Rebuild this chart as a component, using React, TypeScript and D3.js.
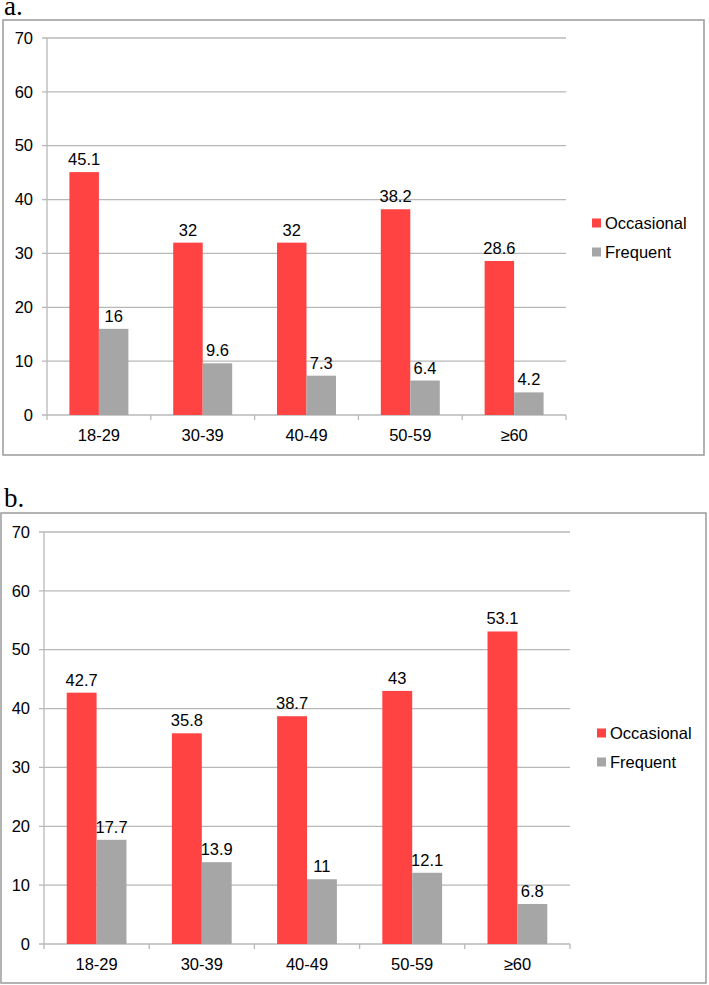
import * as d3 from 'd3'

const categories = ['18-29', '30-39', '40-49', '50-59', '≥60']
const seriesNames = ['Occasional', 'Frequent']
const seriesColors = ['#FF4343', '#A6A6A6']
const yTicks = [0, 10, 20, 30, 40, 50, 60, 70]

const occasionalA = [45.1, 32, 32, 38.2, 28.6]
const frequentA = [16, 9.6, 7.3, 6.4, 4.2]
const occasionalB = [42.7, 35.8, 38.7, 43, 53.1]
const frequentB = [17.7, 13.9, 11, 12.1, 6.8]

type PanelProps = {
  title: string
  values: number[][]
  titleY: number
  frame: { x0: number; y0: number; x1: number; y1: number }
  plot: { left: number; right: number; top: number; bottom: number }
  legendX: number
  legendY: number
}

function Panel({ title, values, titleY, frame, plot, legendX, legendY }: PanelProps) {
  const y = d3.scaleLinear([0, 70], [plot.bottom, plot.top])
  const x0 = d3.scaleBand(categories, [plot.left, plot.right])
  const x1 = d3
    .scaleBand(seriesNames, [0, x0.bandwidth()])
    .paddingInner(0)
    .paddingOuter(0.76)
  const font = 'Liberation Sans, Arial, sans-serif'

  return (
    <g>
      <text x={4} y={titleY} fontFamily="Liberation Serif, Times New Roman, serif" fontSize={27}>
        {title}
      </text>
      <rect
        x={frame.x0}
        y={frame.y0}
        width={frame.x1 - frame.x0}
        height={frame.y1 - frame.y0}
        fill="white"
        stroke="#9a9a9a"
        strokeWidth={1.5}
      />
      {/* grid + y ticks */}
      {yTicks.map((t) => (
        <g key={t}>
          <line
            x1={plot.left - 5}
            x2={plot.right}
            y1={y(t)}
            y2={y(t)}
            stroke="#b8b8b8"
            strokeWidth={1.3}
          />
          <text
            x={plot.left - 14}
            y={y(t)}
            dy="0.35em"
            textAnchor="end"
            fontFamily={font}
            fontSize={16.5}
          >
            {t}
          </text>
        </g>
      ))}
      <line x1={plot.left} x2={plot.left} y1={plot.top} y2={plot.bottom + 5} stroke="#b8b8b8" strokeWidth={1.3} />
      {categories.map((c, i) => (
        <g key={c}>
          <line
            x1={x0(c)! + x0.bandwidth()}
            x2={x0(c)! + x0.bandwidth()}
            y1={plot.bottom}
            y2={plot.bottom + 5}
            stroke="#b8b8b8"
            strokeWidth={1.3}
          />
          <text
            x={x0(c)! + x0.bandwidth() / 2}
            y={plot.bottom + 20}
            dy="0.35em"
            textAnchor="middle"
            fontFamily={font}
            fontSize={16.5}
          >
            {c}
          </text>
          {seriesNames.map((s, j) => {
            const v = values[j][i]
            const bx = x0(c)! + x1(s)!
            return (
              <g key={s}>
                <rect
                  x={bx}
                  y={y(v)}
                  width={x1.bandwidth()}
                  height={plot.bottom - y(v)}
                  fill={seriesColors[j]}
                />
                <text
                  x={bx + x1.bandwidth() / 2}
                  y={y(v) - 7}
                  textAnchor="middle"
                  fontFamily={font}
                  fontSize={16.5}
                >
                  {v}
                </text>
              </g>
            )
          })}
        </g>
      ))}
      {seriesNames.map((s, j) => (
        <g key={s} transform={`translate(${legendX},${legendY + j * 29})`}>
          <rect x={0} y={-4.5} width={9} height={9} fill={seriesColors[j]} />
          <text x={13} y={0} dy="0.35em" fontFamily={font} fontSize={16.5}>
            {s}
          </text>
        </g>
      ))}
    </g>
  )
}

export default function App() {
  return (
    <svg
      width={709}
      height={985}
      style={{ position: 'absolute', left: 0, top: 0, background: 'white' }}
    >
      <Panel
        title="a."
        values={[occasionalA, frequentA]}
        titleY={15}
        frame={{ x0: 3, y0: 20, x1: 704, y1: 455 }}
        plot={{ left: 47, right: 566, top: 38, bottom: 415 }}
        legendX={592}
        legendY={223}
      />
      <Panel
        title="b."
        values={[occasionalB, frequentB]}
        titleY={507}
        frame={{ x0: 1, y0: 513, x1: 706, y1: 983 }}
        plot={{ left: 44, right: 570, top: 532, bottom: 944 }}
        legendX={597}
        legendY={733}
      />
    </svg>
  )
}
